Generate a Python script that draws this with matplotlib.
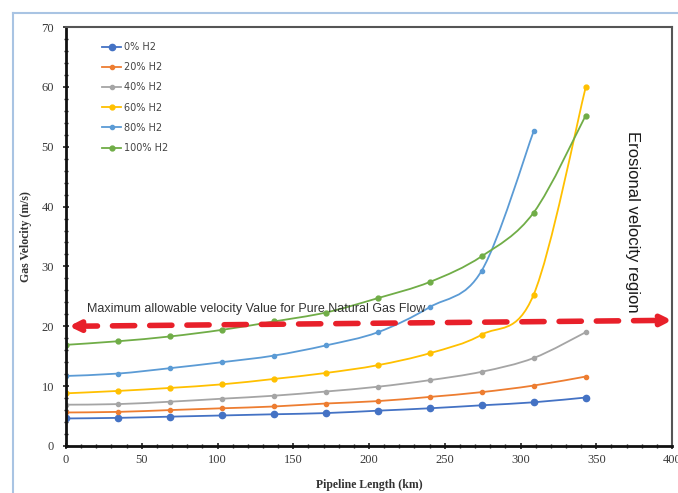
import matplotlib
matplotlib.use("Agg")
import matplotlib.pyplot as plt
import numpy as np
from matplotlib.path import Path
from matplotlib.patches import PathPatch, FancyArrowPatch
from matplotlib.lines import Line2D
from matplotlib.ticker import MultipleLocator

length_km = [0, 34.3, 68.6, 102.9, 137.2, 171.5, 205.8, 240.1, 274.4, 308.7, 343.0]
series_names = ["0% H2", "20% H2", "40% H2", "60% H2", "80% H2", "100% H2"]
v_h2_0 = [4.6, 4.7, 4.9, 5.1, 5.3, 5.5, 5.9, 6.3, 6.8, 7.3, 8.1]
v_h2_20 = [5.6, 5.7, 6.0, 6.3, 6.6, 7.1, 7.5, 8.2, 9.0, 10.1, 11.6]
v_h2_40 = [6.9, 7.0, 7.4, 7.9, 8.4, 9.1, 9.9, 11.0, 12.4, 14.7, 19.0]
v_h2_60 = [8.8, 9.2, 9.7, 10.3, 11.2, 12.2, 13.5, 15.5, 18.6, 25.3, 59.9]
v_h2_80 = [11.7, 12.1, 13.0, 14.0, 15.1, 16.8, 19.0, 23.2, 29.3, 52.6]
v_h2_100 = [16.9, 17.5, 18.3, 19.4, 20.8, 22.3, 24.7, 27.4, 31.7, 39.0, 55.2]
limit_start = [2, 20.0]
limit_end = [400, 21.0]

colors = ["#4472C4", "#ED7D31", "#A5A5A5", "#FFC000", "#5B9BD5", "#70AD47"]
msizes = [4.5, 3, 3, 3.5, 3, 3.5]
all_v = [v_h2_0, v_h2_20, v_h2_40, v_h2_60, v_h2_80, v_h2_100]

fig = plt.figure(figsize=(6.78, 4.93), dpi=100)
# outer light-blue frame lines
fig.add_artist(Line2D([13/678, 13/678], [0, 1 - 13/493], color="#A9C4E3", lw=1.5))
fig.add_artist(Line2D([13/678, 1], [1 - 13/493, 1 - 13/493], color="#A9C4E3", lw=1.5))

ax = fig.add_axes([66/678, 1 - 446/493, (672 - 66)/678, (446 - 27)/493])


def smooth_path(xs, ys):
    pts = np.column_stack([xs, ys]).astype(float)
    n = len(pts)
    verts = [pts[0]]
    codes = [Path.MOVETO]
    for i in range(n - 1):
        p0 = pts[i - 1] if i > 0 else pts[i]
        p1 = pts[i]
        p2 = pts[i + 1]
        p3 = pts[i + 2] if i + 2 < n else pts[i + 1]
        c1 = p1 + (p2 - p0) / 6.0
        c2 = p2 - (p3 - p1) / 6.0
        verts += [c1, c2, p2]
        codes += [Path.CURVE4] * 3
    return Path(verts, codes)


handles = []
for name, vals, c, ms in zip(series_names, all_v, colors, msizes):
    xs = length_km[:len(vals)]
    patch = PathPatch(smooth_path(xs, vals), facecolor="none", edgecolor=c, lw=1.3,
                      transform=ax.transData)
    ax.add_patch(patch)
    ax.plot(xs, vals, linestyle="none", marker="o", ms=ms, color=c)
    handles.append(Line2D([], [], color=c, lw=1.3, marker="o", ms=ms))

ax.set_xlim(0, 400)
ax.set_ylim(0, 70)
ax.xaxis.set_major_locator(MultipleLocator(50))
ax.xaxis.set_minor_locator(MultipleLocator(10))
ax.yaxis.set_major_locator(MultipleLocator(10))
ax.yaxis.set_minor_locator(MultipleLocator(2))
ax.tick_params(which="both", direction="inout", colors="#222222", labelcolor="#3a3a3a",
               labelsize=9, labelfontfamily="Liberation Serif")
ax.tick_params(which="major", length=5, width=1.2)
ax.tick_params(which="minor", length=3, width=1.0)
ax.tick_params(axis="y", which="major", pad=6)
for s in ["left", "bottom"]:
    ax.spines[s].set_linewidth(2.0)
    ax.spines[s].set_color("#111111")
for s in ["top", "right"]:
    ax.spines[s].set_linewidth(1.5)
    ax.spines[s].set_color("#555555")

ax.set_xlabel("Pipeline Length (km)", fontsize=8.5, fontweight="bold",
              family="Liberation Serif", color="#333333", labelpad=9)
ax.set_ylabel("Gas Velocity (m/s)", fontsize=8.5, fontweight="bold",
              family="Liberation Serif", color="#333333", labelpad=7)

arrow = FancyArrowPatch(tuple(limit_start), tuple(limit_end), arrowstyle="<|-|>",
                        mutation_scale=15, color="#E8202A", lw=4, linestyle=(0, (4, 2.7)),
                        shrinkA=0, shrinkB=0, clip_on=False, zorder=5)
ax.add_patch(arrow)

ax.text(14, 22.9, "Maximum allowable velocity Value for Pure Natural Gas Flow",
        fontsize=9, color="#333333", family="Liberation Sans", va="center", ha="left")
ax.text(374, 37.4, "Erosional velocity region", rotation=-90, fontsize=12,
        color="#1a1a1a", family="Liberation Sans", va="center", ha="center")

leg = ax.legend(handles, series_names, loc="upper left", bbox_to_anchor=(0.045, 0.985),
                frameon=False, fontsize=7, handlelength=2.0, labelspacing=1.05,
                handletextpad=0.3, labelcolor="#444444")

fig.savefig("out.png", dpi=100)
